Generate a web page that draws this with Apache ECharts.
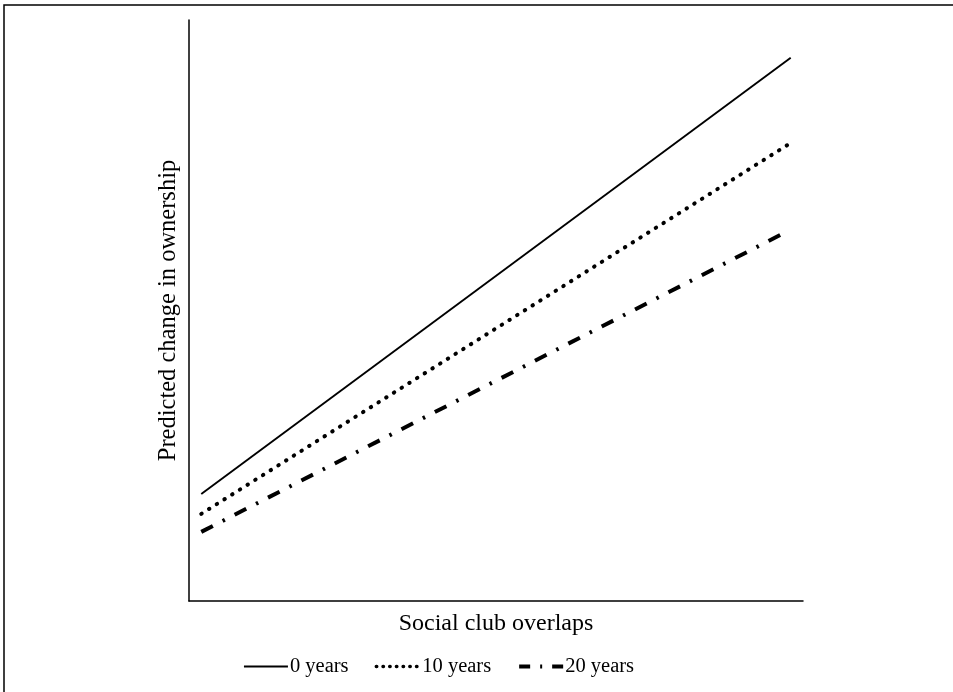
<!DOCTYPE html>
<html>
<head>
<meta charset="utf-8">
<script src="https://cdn.jsdelivr.net/npm/echarts@6/dist/echarts.min.js"></script>
<style>html,body{margin:0;padding:0;background:#fff;}#chart{width:953px;height:692px;}</style>
</head>
<body>
<div id="chart"></div>
<script>
const seriesNames = ['0 years', '10 years', '20 years'];
const xStart = [2, 2, 2];
const xEnd = [98, 97.8, 96.3];
const yStart = [18.4, 15.0, 11.9];
const yEnd = [93.5, 78.7, 63.0];
const xTitle = 'Social club overlaps';
const yTitle = 'Predicted change in ownership';

const FONT = "'Liberation Serif', 'Times New Roman', serif";
const styles = [
  { color: '#000', width: 1.9, type: 'solid' },
  { color: '#000', width: 4, type: [0.5, 8.6], cap: 'round' },
  { color: '#000', width: 4, type: [13, 11, 2.5, 11], cap: 'butt' }
];
const legendStyles = [
  { color: '#000', width: 1.9, type: 'solid' },
  { color: '#000', width: 3.4, type: [0.5, 6.2], cap: 'round' },
  { color: '#000', width: 4, type: [11, 10, 2, 10], cap: 'butt' }
];

const series = seriesNames.map((name, i) => ({
  name: name,
  type: 'line',
  symbol: 'none',
  silent: true,
  animation: false,
  lineStyle: styles[i],
  itemStyle: { color: '#000' },
  data: [[xStart[i], yStart[i]], [xEnd[i], yEnd[i]]]
}));

const chart = echarts.init(document.getElementById('chart'), null, { renderer: 'canvas' });
chart.setOption({
  backgroundColor: '#fff',
  animation: false,
  textStyle: { fontFamily: FONT, color: '#000' },
  grid: { left: 189, top: 20, right: 150, bottom: 91 },
  xAxis: {
    type: 'value', min: 0, max: 100,
    name: xTitle, nameLocation: 'middle', nameGap: 11,
    nameTextStyle: { fontFamily: FONT, fontSize: 24, color: '#000', verticalAlign: 'top' },
    axisLine: { show: true, lineStyle: { color: '#000', width: 1.5 } },
    axisTick: { show: false }, axisLabel: { show: false }, splitLine: { show: false }
  },
  yAxis: {
    type: 'value', min: 0, max: 100,
    name: yTitle, nameLocation: 'middle', nameGap: 8, nameRotate: 90,
    nameTextStyle: { fontFamily: FONT, fontSize: 24.5, color: '#000' },
    axisLine: { show: true, lineStyle: { color: '#000', width: 1.5 } },
    axisTick: { show: false }, axisLabel: { show: false }, splitLine: { show: false }
  },
  legend: {
    left: 238, top: 651, orient: 'horizontal',
    itemWidth: 44, itemHeight: 14, itemGap: 26,
    selectedMode: false,
    textStyle: { fontFamily: FONT, fontSize: 20.5, color: '#000', padding: [0, 0, 0, -3] },
    data: seriesNames.map((n, i) => ({
      name: n,
      itemStyle: { opacity: 0 },
      lineStyle: legendStyles[i]
    }))
  },
  graphic: [{
    type: 'rect', silent: true,
    shape: { x: 4, y: 5, width: 1200, height: 1200 },
    style: { fill: 'none', stroke: '#000', lineWidth: 1.5 }
  }],
  series: series
});
</script>
</body>
</html>
